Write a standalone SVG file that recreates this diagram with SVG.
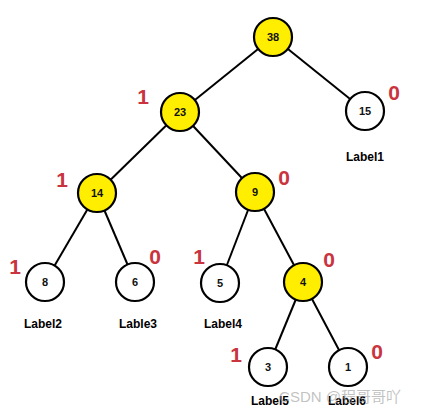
<svg xmlns="http://www.w3.org/2000/svg" width="426" height="416" viewBox="0 0 426 416">
<style>
.n circle{stroke:#000;stroke-width:2.2}
.y{fill:#ffee00}
.w{fill:#fff}
.n text{font-family:"Liberation Sans",Arial,sans-serif;font-size:11px;font-weight:bold;text-anchor:middle;fill:#111}
.e line{stroke:#000;stroke-width:2}
.b{font-family:"Liberation Sans",Arial,sans-serif;font-size:21px;font-weight:bold;fill:#c9343f;text-anchor:middle}
.l{font-family:"Liberation Sans",Arial,sans-serif;font-size:12px;font-weight:bold;fill:#000;text-anchor:middle}
</style>
<rect width="426" height="416" fill="#fff"/>
<g id="connectors" class="e">
<line x1="273" y1="37" x2="365" y2="111"/>
<line x1="273" y1="37" x2="180" y2="112"/>
<line x1="180" y1="112" x2="97" y2="193"/>
<line x1="180" y1="112" x2="255" y2="192"/>
<line x1="97" y1="193" x2="45" y2="282"/>
<line x1="97" y1="193" x2="135" y2="282"/>
<line x1="255" y1="192" x2="220" y2="283"/>
<line x1="255" y1="192" x2="303" y2="282"/>
<line x1="303" y1="282" x2="268" y2="367"/>
<line x1="303" y1="282" x2="348" y2="367"/>
</g>
<g id="n38" class="n"><circle cx="273" cy="37" r="19" class="y"/><text x="273" y="41">38</text></g>
<g id="n15" class="n"><circle cx="365" cy="111" r="19" class="w"/><text x="365" y="115">15</text></g>
<g id="n23" class="n"><circle cx="180" cy="112" r="19" class="y"/><text x="180" y="116">23</text></g>
<g id="n14" class="n"><circle cx="97" cy="193" r="19" class="y"/><text x="97" y="197">14</text></g>
<g id="n9" class="n"><circle cx="255" cy="192" r="19" class="y"/><text x="255" y="196">9</text></g>
<g id="n8" class="n"><circle cx="45" cy="282" r="19" class="w"/><text x="45" y="286">8</text></g>
<g id="n6" class="n"><circle cx="135" cy="282" r="19" class="w"/><text x="135" y="286">6</text></g>
<g id="n5" class="n"><circle cx="220" cy="283" r="19" class="w"/><text x="220" y="287">5</text></g>
<g id="n4" class="n"><circle cx="303" cy="282" r="19" class="y"/><text x="303" y="286">4</text></g>
<g id="n3" class="n"><circle cx="268" cy="367" r="19" class="w"/><text x="268" y="371">3</text></g>
<g id="n1" class="n"><circle cx="348" cy="367" r="19" class="w"/><text x="348" y="371">1</text></g>
<g id="bits">
<text class="b" x="143" y="104">1</text>
<text class="b" x="394" y="100">0</text>
<text class="b" x="62" y="187">1</text>
<text class="b" x="284" y="185">0</text>
<text class="b" x="15" y="274">1</text>
<text class="b" x="155" y="264">0</text>
<text class="b" x="199" y="264">1</text>
<text class="b" x="329" y="267">0</text>
<text class="b" x="236" y="362">1</text>
<text class="b" x="377" y="359">0</text>
</g>
<g id="labels">
<text class="l" x="365" y="161">Label1</text>
<text class="l" x="43" y="328">Label2</text>
<text class="l" x="138" y="328">Lable3</text>
<text class="l" x="223" y="328">Label4</text>
<text class="l" x="270" y="405">Label5</text>
<text class="l" x="347" y="405">Label6</text>
</g>
<text x="340" y="402" font-family="'Liberation Sans','Noto Sans CJK SC',sans-serif" font-size="15" fill="#999" fill-opacity="0.6" text-anchor="middle">CSDN @程哥哥吖</text>
</svg>
